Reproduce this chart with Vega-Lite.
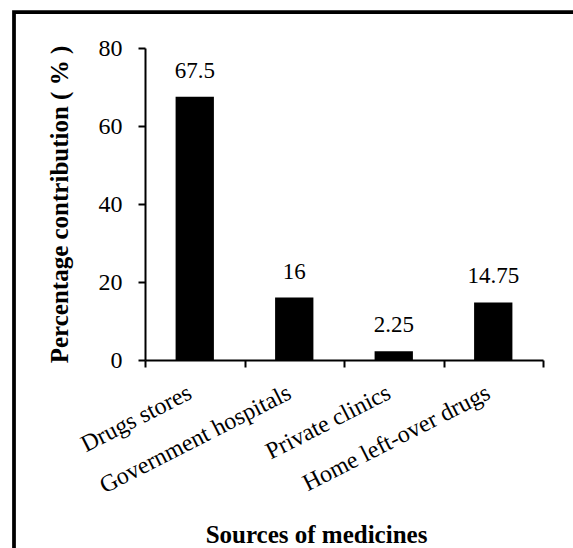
{
  "$schema": "https://vega.github.io/schema/vega-lite/v6.json",
  "autosize": {"type": "none"},
  "padding": {"left": 14, "top": 12, "right": 0, "bottom": 0},
  "width": 600,
  "height": 580,
  "background": "white",
  "config": {
    "view": {"stroke": "black", "strokeWidth": 3.75},
    "font": "Liberation Serif",
    "axis": {
      "grid": false,
      "domainColor": "black",
      "domainWidth": 2,
      "tickColor": "black",
      "tickWidth": 2,
      "tickSize": 7,
      "labelColor": "black",
      "titleColor": "black",
      "labelFont": "Liberation Serif",
      "titleFont": "Liberation Serif",
      "labelFontSize": 24,
      "titleFontSize": 25,
      "titleFontWeight": "bold",
      "labelLimit": 500
    }
  },
  "data": {
    "values": [
      {"source": "Drugs stores", "value": 67.5},
      {"source": "Government hospitals", "value": 16},
      {"source": "Private clinics", "value": 2.25},
      {"source": "Home left-over drugs", "value": 14.75}
    ]
  },
  "encoding": {
    "x": {
      "field": "source",
      "type": "nominal",
      "sort": null,
      "scale": {"range": [131, 529], "paddingInner": 0, "paddingOuter": 0},
      "axis": {
        "orient": "bottom",
        "offset": -232,
        "labelAngle": -27,
        "labelAlign": "right",
        "labelBaseline": "middle",
        "labelPadding": 24,
        "labelOffset": -5,
        "tickBand": "extent",
        "title": "Sources of medicines",
        "titleX": 302,
        "titleY": 182,
        "titleBaseline": "alphabetic"
      }
    },
    "y": {
      "field": "value",
      "type": "quantitative",
      "scale": {"domain": [0, 80], "range": [348, 36], "nice": false},
      "axis": {
        "orient": "left",
        "offset": -131,
        "values": [0, 20, 40, 60, 80],
        "labelPadding": 16,
        "title": "Percentage contribution  ( % )",
        "titleX": -78,
        "titleAngle": -90,
        "titleBaseline": "alphabetic",
        "titleAlign": "center"
      }
    }
  },
  "layer": [
    {"mark": {"type": "bar", "color": "black", "width": {"band": 0.385}}},
    {
      "mark": {"type": "text", "dy": -19, "baseline": "alphabetic", "fontSize": 23, "font": "Liberation Serif", "color": "black"},
      "encoding": {"text": {"field": "value", "type": "quantitative"}}
    }
  ]
}
